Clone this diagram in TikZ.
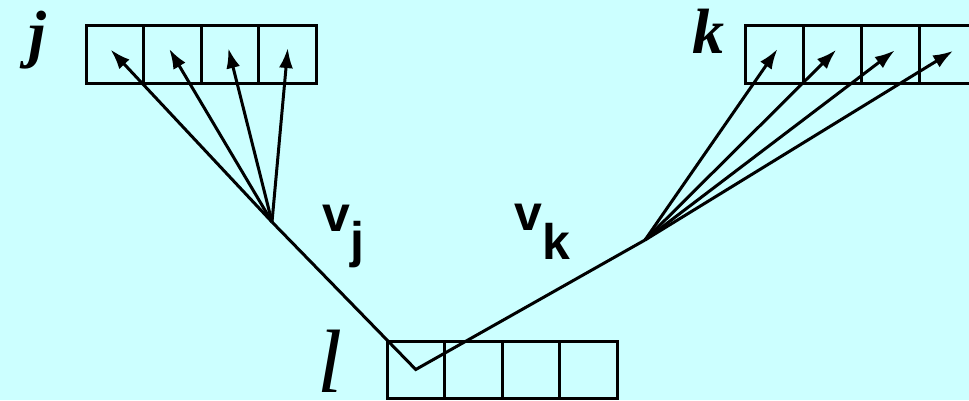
\documentclass[tikz,border=0pt]{standalone}
\usepackage{fontspec}
\setmainfont{Liberation Serif}
\newfontfamily\lsans{Liberation Sans}
\usetikzlibrary{arrows.meta}
\definecolor{bg}{RGB}{204,255,255}
\begin{document}
\begin{tikzpicture}[x=1pt,y=-1pt,
  cell/.style={draw, line width=3pt, minimum height=58pt, inner sep=0pt},
  ptr/.style={line width=3pt, arrows={-Latex[length=20pt,width=14pt]}, shorten >=-6pt},
  seg/.style={line width=3pt},
  vlab/.style={font=\lsans\bfseries\fontsize{50}{50}\selectfont, anchor=base west, inner sep=0pt},
  idx/.style={font=\bfseries\itshape\fontsize{64}{64}\selectfont, anchor=base, inner sep=0pt},
]
\useasboundingbox (0,0) rectangle (969,400);
\fill[bg] (0,0) rectangle (969,400);
\clip (0,0) rectangle (969,400);
% j array
\foreach \i in {1,...,4}{
  \node[cell, minimum width=57.5pt] (j\i) at ({114.75+57.5*(\i-1)},54) {};
}
% k array
\foreach \i in {1,...,4}{
  \node[cell, minimum width=58pt] (k\i) at ({774+58*(\i-1)},54) {};
}
% l array
\foreach \i in {1,...,4}{
  \node[cell, minimum width=57.5pt, minimum height=57pt] (l\i) at ({415.75+57.5*(\i-1)},369.5) {};
}
\coordinate (vj) at (272,222);
\coordinate (vk) at (645,240);
\draw[seg] (vj) -- (l1.center) -- (vk);
\foreach \i in {1,...,4}{
  \draw[ptr] (vj) -- (j\i.center);
  \draw[ptr] (vk) -- (k\i.center);
}
\node[idx] (jl) at (37,55) {j};
\node[idx] (kl) at (708,53) {k};
\node[font=\itshape\fontsize{90}{90}\selectfont, anchor=base, inner sep=0pt] (ll) at (330,392) {l};
\node[vlab] (vjl) at (322,231) {v\raisebox{-26pt}{j}};
\node[vlab] (vkl) at (514,230) {v\raisebox{-29pt}{k}};
\end{tikzpicture}
\end{document}
